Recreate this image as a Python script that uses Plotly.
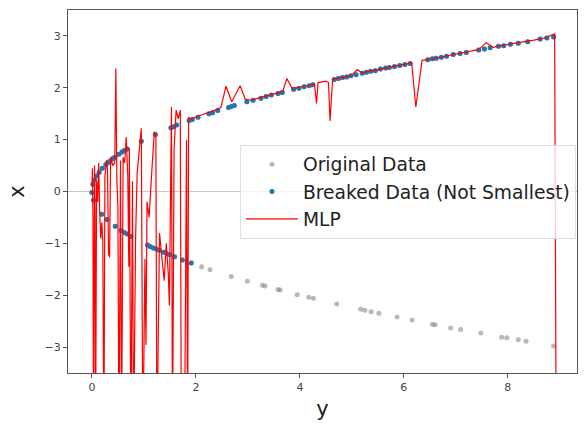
import plotly.graph_objects as go

# Upper branch (x = +sqrt(y)) samples
upper_y = [0.02, 0.05, 0.09, 0.14, 0.20, 0.27, 0.31, 0.35, 0.40, 0.44, 0.52, 0.58, 0.62, 0.68,
           0.95, 1.22, 1.52, 1.57, 1.63, 1.87, 1.93, 2.04, 2.25, 2.32, 2.42, 2.63, 2.68, 2.74,
           2.98, 3.10, 3.25, 3.35, 3.45, 3.58, 3.66, 3.88, 3.98, 4.08, 4.18, 4.25, 4.66, 4.74,
           4.82, 4.90, 4.98, 5.08, 5.20, 5.28, 5.36, 5.45, 5.55, 5.65, 5.72, 5.82, 5.92, 6.02,
           6.12, 6.46, 6.55, 6.62, 6.72, 6.82, 6.95, 7.08, 7.20, 7.44, 7.55, 7.66, 7.82, 7.92,
           8.05, 8.20, 8.38, 8.62, 8.75, 8.88]
upper_x = [0.14, 0.22, 0.30, 0.37, 0.45, 0.52, 0.56, 0.59, 0.63, 0.66, 0.72, 0.76, 0.79, 0.82,
           0.97, 1.10, 1.23, 1.25, 1.28, 1.37, 1.39, 1.43, 1.50, 1.52, 1.56, 1.62, 1.64, 1.66,
           1.73, 1.76, 1.80, 1.83, 1.86, 1.89, 1.91, 1.97, 1.99, 2.02, 2.04, 2.06, 2.16, 2.18,
           2.20, 2.21, 2.23, 2.25, 2.28, 2.30, 2.32, 2.33, 2.36, 2.38, 2.39, 2.41, 2.43, 2.45,
           2.47, 2.54, 2.56, 2.57, 2.59, 2.61, 2.64, 2.66, 2.68, 2.73, 2.75, 2.77, 2.80, 2.81,
           2.84, 2.86, 2.89, 2.94, 2.96, 2.98]

# Lower branch, kept in breaked data (y < 2)
low_keep_y = [0.00, 0.03, 0.19, 0.29, 0.45, 0.56, 0.62, 0.68, 0.75, 1.07, 1.12, 1.18, 1.24,
              1.30, 1.38, 1.44, 1.50, 1.59, 1.74, 1.91]
low_keep_x = [-0.02, -0.17, -0.44, -0.54, -0.67, -0.75, -0.79, -0.82, -0.87, -1.03, -1.06,
              -1.09, -1.11, -1.14, -1.17, -1.20, -1.22, -1.26, -1.32, -1.38]

# Lower branch, only in original data
low_rest_y = [2.11, 2.27, 2.68, 2.99, 3.28, 3.33, 3.58, 3.62, 3.95, 4.17, 4.26, 4.71, 5.17,
              5.25, 5.37, 5.52, 5.87, 6.16, 6.55, 6.60, 6.90, 7.09, 7.48, 7.88, 7.98, 8.20,
              8.35, 8.88]
low_rest_x = [-1.45, -1.51, -1.64, -1.73, -1.81, -1.82, -1.89, -1.90, -1.99, -2.04, -2.06,
              -2.17, -2.27, -2.29, -2.32, -2.35, -2.42, -2.48, -2.56, -2.57, -2.63, -2.66,
              -2.73, -2.81, -2.82, -2.86, -2.89, -2.98]

# MLP prediction
mlp_y = [0.00, 0.01, 0.02, 0.03, 0.05, 0.06, 0.07, 0.09, 0.11, 0.13, 0.15, 0.17, 0.19, 0.21,
         0.23, 0.25, 0.28, 0.30, 0.32, 0.34, 0.36, 0.40, 0.44, 0.46, 0.48, 0.50, 0.52, 0.55,
         0.57, 0.60, 0.63, 0.66, 0.69, 0.71, 0.72, 0.75, 0.78, 0.80, 0.84, 0.87, 0.95, 0.98,
         1.02, 1.04, 1.06, 1.10, 1.14, 1.20, 1.23, 1.25, 1.30, 1.35, 1.39, 1.43, 1.47, 1.49,
         1.51, 1.53, 1.55, 1.58, 1.62, 1.66, 1.70, 1.72, 1.78, 1.82, 1.84, 1.86, 1.90,
         2.00, 2.10, 2.20, 2.30, 2.40, 2.48, 2.58, 2.69, 2.85, 2.95, 3.05, 3.20, 3.40, 3.60,
         3.67, 3.75, 3.85, 4.00, 4.15, 4.28, 4.32, 4.35, 4.50, 4.55, 4.58, 4.63, 4.80, 5.00,
         5.10, 5.20, 5.40, 5.60, 5.80, 6.00, 6.15, 6.23, 6.35, 6.55, 6.75, 7.00, 7.30, 7.45,
         7.58, 7.72, 7.90, 8.10, 8.30, 8.50, 8.70, 8.90, 8.93]
mlp_x = [0.10, 0.45, -0.50, -5.0, 0.50, -0.30, -5.0, 0.20, -0.20, 0.55, -0.40, -0.90, -0.60,
         -0.97, -5.0, 0.30, 0.60, 0.40, -1.20, -1.27, 0.66, 0.50, 0.55, 2.37, 0.20, -0.30,
         -5.0, 0.60, -5.0, 0.66, 0.55, 1.05, 0.30, -1.45, 0.84, -5.0, 0.20, -5.0, -0.90, 0.36,
         1.22, -5.0, -1.30, -2.96, -0.20, -0.50, 0.20, 1.15, 1.10, -5.0, -0.80, -1.30, -1.72,
         -1.00, -1.60, -2.20, 0.50, 1.63, -5.0, 0.80, 1.57, 1.40, 1.57, -5.0, -5.0, 1.00,
         -5.0, 1.43, 1.40,
         1.44, 1.47, 1.51, 1.54, 1.58, 1.62, 2.03, 1.73, 2.04, 1.78, 1.76, 1.80, 1.86, 1.91,
         1.93, 2.18, 1.99, 2.01, 2.04, 2.07, 1.70, 2.10, 2.13, 2.10, 1.36, 2.16, 2.20, 2.24,
         2.35, 2.29, 2.33, 2.37, 2.41, 2.45, 2.48, 1.63, 2.53, 2.56, 2.60, 2.65, 2.71, 2.74,
         2.87, 2.78, 2.82, 2.85, 2.88, 2.92, 2.96, 3.04, -5.0]

orig_y = upper_y + low_keep_y + low_rest_y
orig_x = upper_x + low_keep_x + low_rest_x
brk_y = upper_y + low_keep_y
brk_x = upper_x + low_keep_x

fig = go.Figure()
fig.add_trace(go.Scatter(x=orig_y, y=orig_x, mode="markers", name="Original Data",
                         marker=dict(color="rgba(128,128,128,0.55)", size=5, line=dict(width=0))))
fig.add_trace(go.Scatter(x=brk_y, y=brk_x, mode="markers", name="Breaked Data (Not Smallest)",
                         marker=dict(color="#1f77b4", size=5, line=dict(width=0))))
fig.add_trace(go.Scatter(x=mlp_y, y=mlp_x, mode="lines", name="MLP",
                         line=dict(color="#ff0000", width=1.2)))

axis_common = dict(showline=True, mirror=True, linecolor="#555555", linewidth=1,
                   ticks="outside", ticklen=4, tickcolor="#555555", showgrid=False,
                   tickfont=dict(size=11, color="#444444"))

fig.update_layout(
    width=587, height=426,
    margin=dict(l=68, r=10, t=9, b=51),
    paper_bgcolor="white", plot_bgcolor="white",
    font=dict(family="DejaVu Sans", color="#222222"),
    xaxis=dict(range=[-0.46, 9.33], tickvals=[0, 2, 4, 6, 8], zeroline=False,
               title=dict(text="y", font=dict(size=21), standoff=8), **axis_common),
    yaxis=dict(range=[-3.5, 3.5], tickvals=[-3, -2, -1, 0, 1, 2, 3],
               zeroline=True, zerolinecolor="#c8c8c8", zerolinewidth=1,
               title=dict(text="x", font=dict(size=21), standoff=14), **axis_common),
    legend=dict(x=0.998, xanchor="right", y=0.5, yanchor="middle",
                bgcolor="rgba(255,255,255,0.8)", bordercolor="#dddddd", borderwidth=1,
                font=dict(size=18.7, color="#222222"), itemwidth=52, tracegroupgap=0),
    showlegend=True,
)

fig.write_html("out.html")
